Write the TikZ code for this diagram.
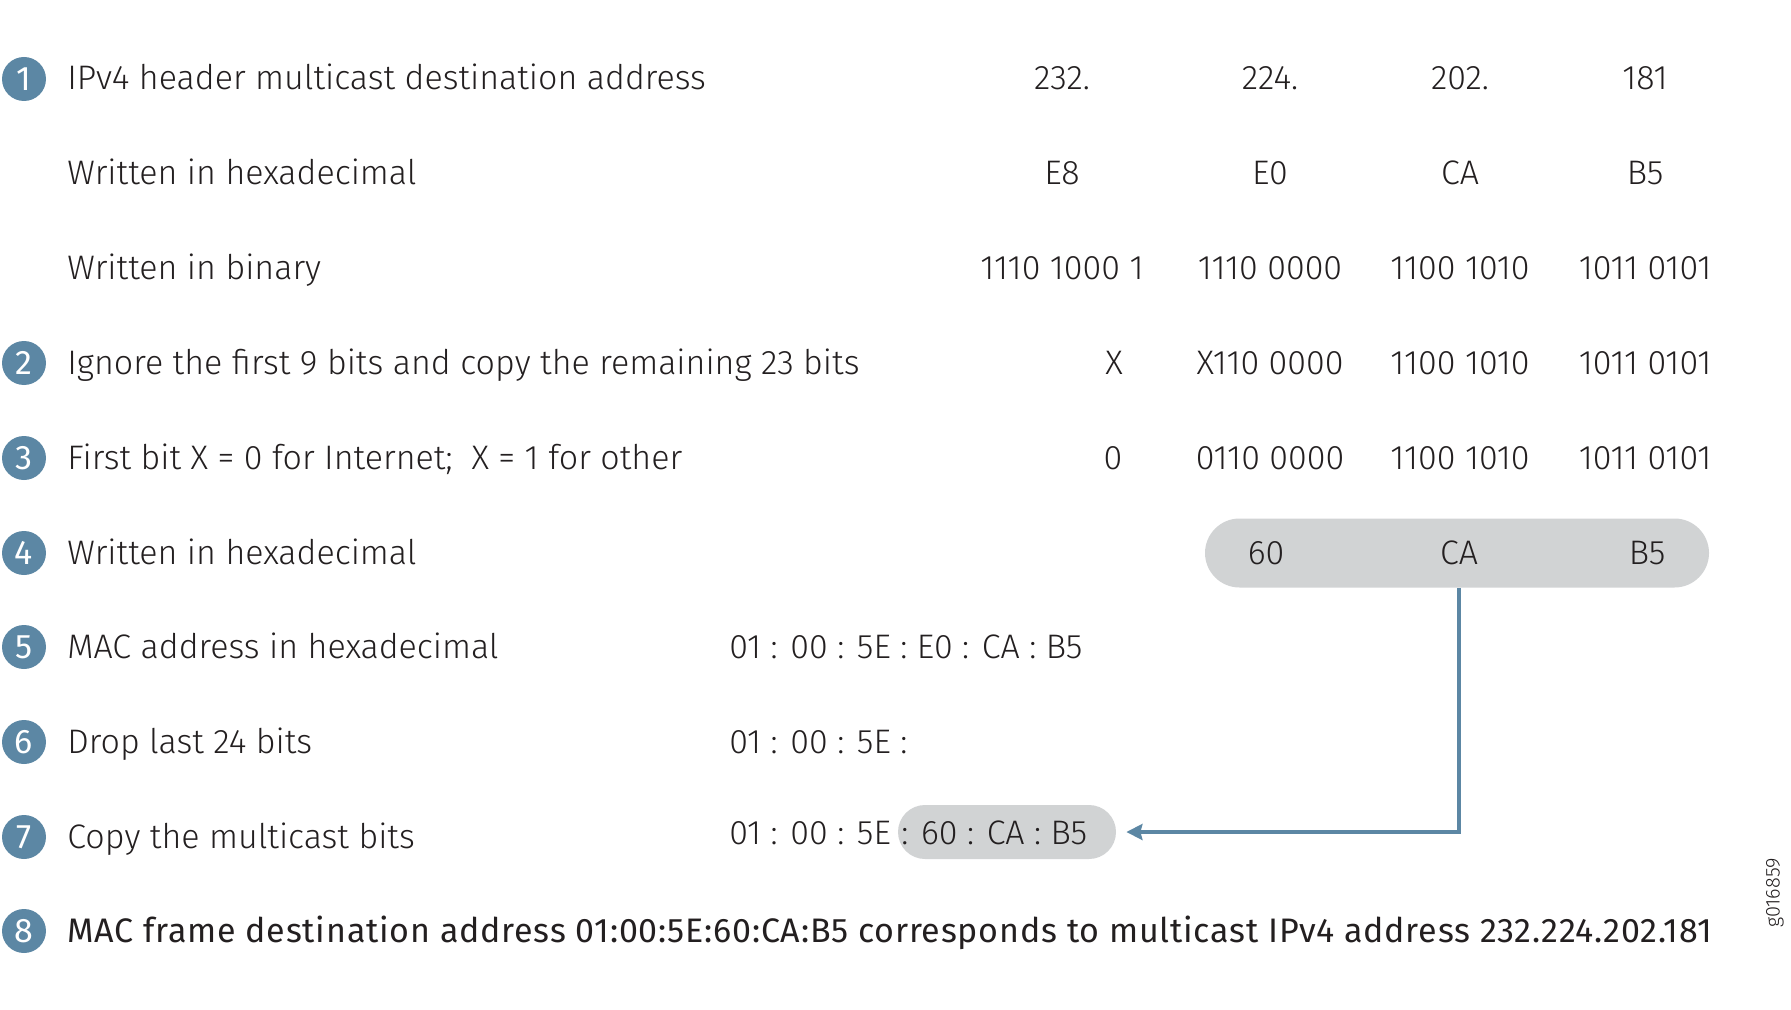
\documentclass[tikz,border=0pt]{standalone}
\usepackage{fontspec}
\setmainfont{Fira Sans Light}[BoldFont={Fira Sans}]
\usetikzlibrary{arrows.meta, positioning}
\definecolor{stepblue}{HTML}{5C87A4}
\definecolor{pillgray}{HTML}{D1D3D4}
\definecolor{inkblack}{HTML}{231F20}
\tikzset{
  stepnum/.style={circle, fill=stepblue, text=white, minimum size=22pt, inner sep=0pt, font=\fontsize{17}{19}\selectfont\bfseries},
  rowlabel/.style={anchor=base west, inner sep=0pt, text=inkblack, font=\fontsize{17}{19}\selectfont},
  rowvalue/.style={anchor=base, inner sep=0pt, text=inkblack, font=\fontsize{17}{19}\selectfont},
  pill/.style={rectangle, fill=pillgray, draw=none, inner sep=0pt},
  copyarrow/.style={-{Stealth[length=8pt, width=8pt, inset=1pt]}, line width=1.65pt, draw=stepblue}
}

\begin{document}
\begin{tikzpicture}[x=0.5pt, y=-0.5pt]
\useasboundingbox (0,0) rectangle (1791,1010);

% highlight pills
\node[pill, minimum width=252pt, minimum height=34.5pt, rounded corners=17.25pt] (hexpill) at (1457,553) {};
\node[pill, minimum width=109pt, minimum height=27pt, rounded corners=13.5pt] (macpill) at (1007,832) {};

% step markers
\foreach \n/\y in {1/79, 2/363, 3/458, 4/553, 5/647, 6/742, 7/837, 8/931} {
  \node[stepnum] (s\n) at (24,\y) {\n};
}

% row labels
\node[rowlabel] (lab1) at (67,90) {IPv4 header multicast destination address};
\node[rowlabel] (lab1h) at (67,185) {Written in hexadecimal};
\node[rowlabel] (lab1b) at (67,280) {Written in binary};
\node[rowlabel] (lab2) at (67,374) {Ignore the first 9 bits and copy the remaining 23 bits};
\node[rowlabel] (lab3) at (67,469) {First bit X = 0 for Internet;\ \ X = 1 for other};
\node[rowlabel] (lab4) at (67,564) {Written in hexadecimal};
\node[rowlabel] (lab5) at (67,658) {MAC address in hexadecimal};
\node[rowlabel] (lab6) at (67,753) {Drop last 24 bits};
\node[rowlabel] (lab7) at (67,848) {Copy the multicast bits};
\node[rowlabel, font=\fontsize{17}{19}\selectfont\bfseries\addfontfeature{LetterSpace=2.3}] (lab8) at (67,942) {MAC frame destination address 01:00:5E:60:CA:B5 corresponds to multicast IPv4 address 232.224.202.181};

% IPv4 address columns
\foreach \x/\a/\b/\c in {1062/232./E8/1110 1000 1, 1270/224./E0/1110 0000, 1460/202./CA/1100 1010, 1645/181/B5/1011 0101} {
  \node[rowvalue] (dec\x) at (\x,90) {\a};
  \node[rowvalue] (hex\x) at (\x,185) {\b};
  \node[rowvalue] (bin\x) at (\x,280) {\c};
}
\node[rowvalue] (ign1) at (1114,374) {X};
\node[rowvalue] (ign2) at (1270,374) {X110 0000};
\node[rowvalue] (ign3) at (1460,374) {1100 1010};
\node[rowvalue] (ign4) at (1645,374) {1011 0101};
\node[rowvalue] (fst1) at (1113,469) {0};
\node[rowvalue] (fst2) at (1270,469) {0110 0000};
\node[rowvalue] (fst3) at (1460,469) {1100 1010};
\node[rowvalue] (fst4) at (1645,469) {1011 0101};

% 23 bits in hex
\node[rowvalue] (hex60) at (1266,564) {60};
\node[rowvalue] (hexCA) at (1459,564) {CA};
\node[rowvalue] (hexB5) at (1647,564) {B5};

% MAC address rows
\node[rowlabel] (mac5) at (729,658) {01 : 00 : 5E : E0 : CA : B5};
\node[rowlabel] (mac6) at (729,753) {01 : 00 : 5E :};
\node[rowlabel] (mac7a) at (729,844) {01 : 00 : 5E};
\node[rowlabel] (mac7b) at (901,844) {: 60 : CA : B5};

% copy arrow
\draw[copyarrow, shorten >=5pt] (hexCA |- hexpill.south) |- (macpill.east);

\node[rotate=90, text=inkblack, inner sep=0pt, font=\fontsize{10}{11}\selectfont] (fig) at (1775,893) {g016859};
\end{tikzpicture}
\end{document}
